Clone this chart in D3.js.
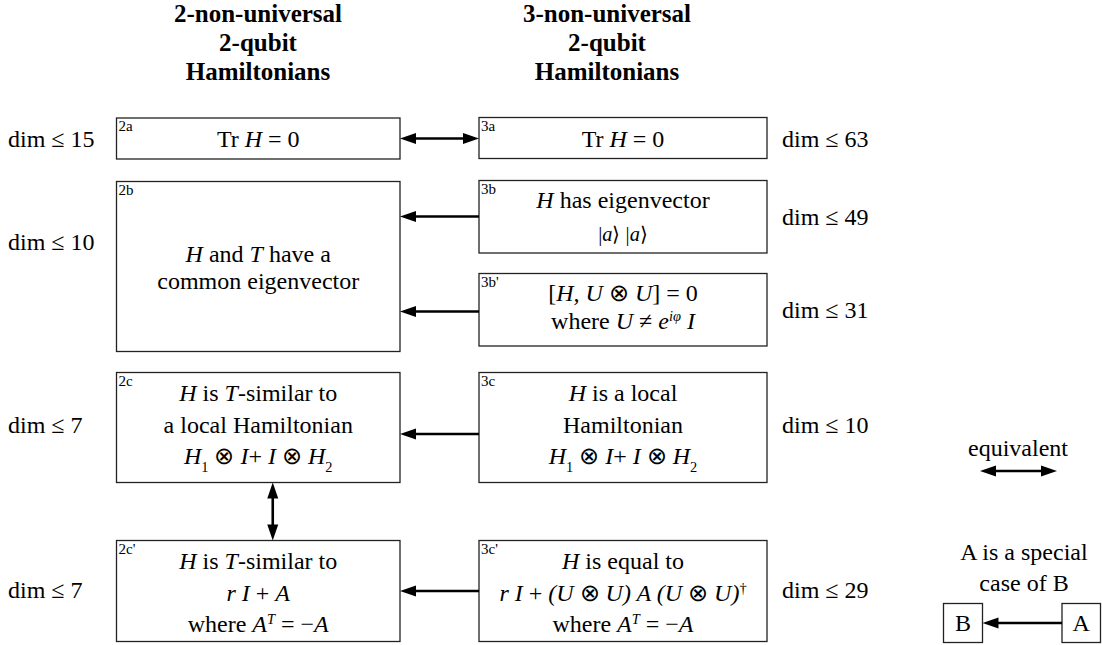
<!DOCTYPE html>
<html><head><meta charset="utf-8">
<script src="https://cdn.jsdelivr.net/npm/d3@7"></script>
</head><body style="margin:0">
<svg id="c" width="1102" height="645"></svg>
<script>
// ---------- data ----------
const headerLeft = ["2-non-universal", "2-qubit", "Hamiltonians"];
const headerRight = ["3-non-universal", "2-qubit", "Hamiltonians"];
const boxIds = ["2a", "2b", "2c", "2c'", "3a", "3b", "3b'", "3c", "3c'"];
const boxLines = {
  "2a": ["Tr *H* = 0"],
  "2b": ["*H* and *T* have a", "common eigenvector"],
  "2c": ["*H* is *T*-similar to", "a local Hamiltonian", "*H*_{1} ⊗ *I*+ *I* ⊗ *H*_{2}"],
  "2c'": ["*H* is *T*-similar to", "*r I* + *A*", "where *A*^{*T*} = −*A*"],
  "3a": ["Tr *H* = 0"],
  "3b": ["*H* has eigenvector", "|*a*⟩ |*a*⟩"],
  "3b'": ["[*H, U* ⊗ *U*] = 0", "where *U* ≠ *e*^{*iφ*} *I*"],
  "3c": ["*H* is a local", "Hamiltonian", "*H*_{1} ⊗ *I*+ *I* ⊗ *H*_{2}"],
  "3c'": ["*H* is equal to", "*r I* + *(U* ⊗ *U) A (U* ⊗ *U)*^{†}", "where *A*^{*T*} = −*A*"]
};
const dimLabels = ["dim ≤ 15", "dim ≤ 10", "dim ≤ 7", "dim ≤ 7", "dim ≤ 63", "dim ≤ 49", "dim ≤ 31", "dim ≤ 10", "dim ≤ 29"];
// relations: [from, to, type]  special: arrow head at "to"; equiv: both heads
const relations = [
  ["2a", "3a", "equiv"],
  ["3b", "2b", "special"],
  ["3b'", "2b", "special"],
  ["3c", "2c", "special"],
  ["3c'", "2c'", "special"],
  ["2c", "2c'", "equiv"]
];
const legendEquivLabel = ["equivalent"];
const legendSpecialLabel = ["A is a special", "case of B"];
const legendBoxes = ["B", "A"];

// ---------- layout ----------
const FONT = "Liberation Serif";
const svg = d3.select("#c");
const colX = d3.scaleOrdinal().domain(["2", "3"]).range([[116.5, 400], [479, 767]]);
const geom = {
  "2a": [118, 159], "2b": [181.5, 351.5], "2c": [372.5, 482.5], "2c'": [540.5, 641.5],
  "3a": [117.5, 158.5], "3b": [180.5, 253], "3b'": [273.5, 346], "3c": [372.5, 482.5], "3c'": [540.5, 641.5]
};
const firstBase = {"2a": 147, "2b": 262, "2c": 401, "2c'": 569, "3a": 147, "3b": 208, "3b'": 301, "3c": 401, "3c'": 569};
const pitch = {"2a": 0, "2b": 27, "2c": 31.5, "2c'": 31.5, "3a": 0, "3b": 33, "3b'": 28, "3c": 31.5, "3c'": 31.5};
const dimBase = {"2a": 147, "2b": 250, "2c": 433, "2c'": 598, "3a": 147, "3b": 225, "3b'": 318, "3c": 433, "3c'": 598};
const smallLines = {"3b": [1]};
const FS = 24;

function txt(g) {
  return g.append("text").style("font-family", `"${FONT}"`);
}

function parse(str) {
  const segs = [];
  let italic = false, shift = 0, buf = "";
  const push = () => { if (buf) { segs.push({t: buf, it: italic, sh: shift}); buf = ""; } };
  for (let i = 0; i < str.length; i++) {
    const c = str[i];
    if (c === "*") { push(); italic = !italic; }
    else if ((c === "_" || c === "^") && str[i + 1] === "{") { push(); shift = c === "_" ? 1 : -1; i++; }
    else if (c === "}" && shift !== 0) { push(); shift = 0; }
    else buf += c;
  }
  push();
  return segs;
}

function richText(g, str, x, y, size) {
  const t = txt(g).attr("x", x).attr("y", y).attr("text-anchor", "middle").attr("font-size", size);
  let cur = 0;
  parse(str).forEach(s => {
    const want = s.sh === 1 ? size * 0.33 : s.sh === -1 ? -size * 0.33 : 0;
    t.append("tspan").attr("dy", want - cur)
      .style("font-family", `"${FONT}"`)
      .attr("font-style", s.it ? "italic" : "normal")
      .attr("font-size", s.sh ? size * 0.6 : size)
      .text(s.t);
    cur = want;
  });
  return t;
}

// headers
[[headerLeft, 258], [headerRight, 607]].forEach(([lines, cx]) => {
  lines.forEach((l, i) => {
    txt(svg).attr("x", cx).attr("y", 21.5 + i * 29.3).attr("text-anchor", "middle")
      .attr("font-weight", "bold").attr("font-size", 25).text(l);
  });
});

// boxes
const boxG = svg.append("g");
boxIds.forEach((id, k) => {
  const [x0, x1] = colX(id[0]);
  const [y0, y1] = geom[id];
  boxG.append("rect").attr("x", x0).attr("y", y0).attr("width", x1 - x0).attr("height", y1 - y0)
    .attr("fill", "none").attr("stroke", "#222").attr("stroke-width", 1.3);
  txt(boxG).attr("x", x0 + 2).attr("y", y0 + 13).attr("font-size", 15).text(id);
  const cx = (x0 + x1) / 2;
  boxLines[id].forEach((l, i) => {
    const small = (smallLines[id] || []).includes(i);
    richText(boxG, l, cx, firstBase[id] + i * pitch[id], small ? FS * 0.85 : FS);
  });
  const left = id[0] === "2";
  txt(boxG).attr("x", left ? 8 : 782).attr("y", dimBase[id]).attr("font-size", FS)
    .text(dimLabels[k]);
});

// arrows
const arrowG = svg.append("g");
function head(g, tip, dir) {
  const L = 16, W = 5.5;
  const bx = tip[0] - dir[0] * L, by = tip[1] - dir[1] * L;
  const px = -dir[1], py = dir[0];
  g.append("path").attr("d", `M${tip[0]},${tip[1]}L${bx + px * W},${by + py * W}L${bx - px * W},${by - py * W}Z`)
    .attr("fill", "#000");
}
function arrow(g, a, b, both) {
  const dx = b[0] - a[0], dy = b[1] - a[1], len = Math.hypot(dx, dy);
  const d = [dx / len, dy / len];
  const sa = both ? [a[0] + d[0] * 10, a[1] + d[1] * 10] : a;
  const sb = [b[0] - d[0] * 10, b[1] - d[1] * 10];
  g.append("line").attr("x1", sa[0]).attr("y1", sa[1]).attr("x2", sb[0]).attr("y2", sb[1])
    .attr("stroke", "#000").attr("stroke-width", 2.6);
  head(g, b, d);
  if (both) head(g, a, [-d[0], -d[1]]);
}
const arrowY = {"2a": 138.5, "3b": 216.5, "3b'": 311.5, "3c": 434, "3c'": 591};
relations.forEach(([f, t, type]) => {
  if (f[0] !== t[0]) {
    const y = arrowY[f];
    const fx = colX(f[0]), tx = colX(t[0]);
    const a = [f[0] === "2" ? fx[1] : fx[0], y];
    const b = [t[0] === "2" ? tx[1] : tx[0], y];
    arrow(arrowG, a, b, type === "equiv");
  } else {
    const [x0, x1] = colX(f[0]);
    const cx = (x0 + x1) / 2 + 14.5;
    arrow(arrowG, [cx, geom[f][1]], [cx, geom[t][0]], type === "equiv");
  }
});

// legend
const lg = svg.append("g");
txt(lg).attr("x", 1018).attr("y", 456).attr("text-anchor", "middle").attr("font-size", FS).text(legendEquivLabel[0]);
arrow(lg, [980, 471], [1057, 471], true);
legendSpecialLabel.forEach((l, i) => {
  txt(lg).attr("x", 1024).attr("y", 560 + i * 31).attr("text-anchor", "middle").attr("font-size", FS).text(l);
});
const lbx = [[943.5, 982.5], [1062, 1100.5]];
legendBoxes.forEach((b, i) => {
  lg.append("rect").attr("x", lbx[i][0]).attr("y", 603.5).attr("width", lbx[i][1] - lbx[i][0]).attr("height", 39)
    .attr("fill", "none").attr("stroke", "#222").attr("stroke-width", 1.3);
  txt(lg).attr("x", (lbx[i][0] + lbx[i][1]) / 2).attr("y", 631).attr("text-anchor", "middle").attr("font-size", FS).text(b);
});
arrow(lg, [1062, 623], [982.5, 623], false);

// force text layout with the chosen font resolved
svg.selectAll("text").each(function () { this.getComputedTextLength(); });
</script>
</body></html>
